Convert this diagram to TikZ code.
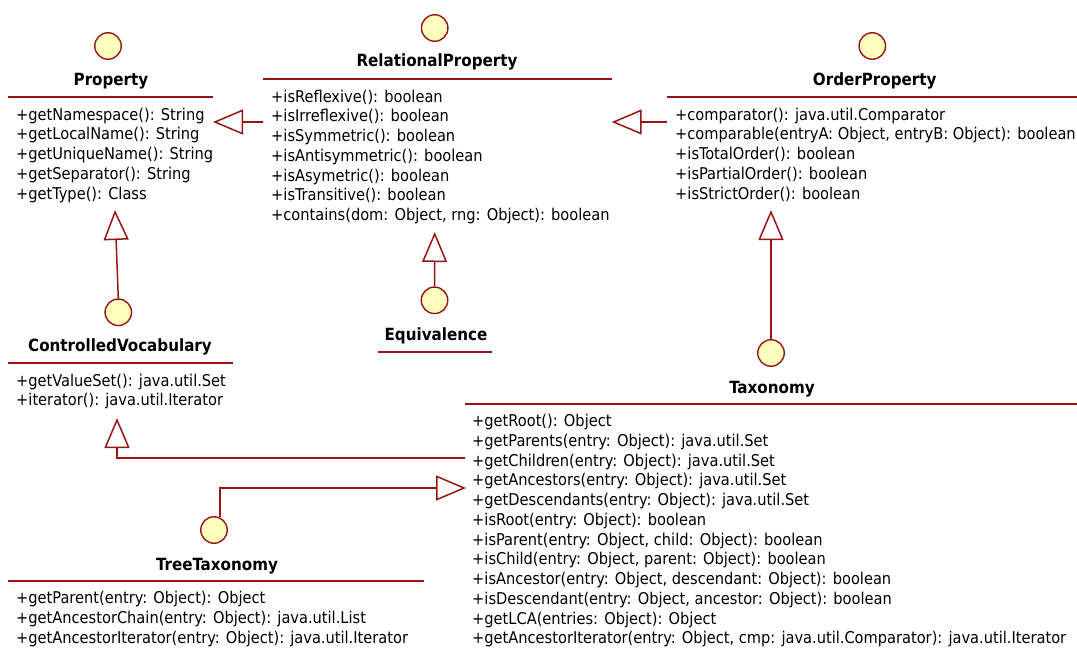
\documentclass[tikz,border=0pt]{standalone}
\usepackage{fontspec}
\newfontfamily\umlfont{DejaVu Sans Condensed}
\usetikzlibrary{arrows.meta}

\definecolor{umlline}{RGB}{150,20,20}
\definecolor{umlfill}{RGB}{255,255,192}

% size the fonts so that the longest operation and the longest class name
% get their intended widths
\newlength\memwd
\newlength\titwd
\AtBeginDocument{%
  \settowidth\memwd{\umlfont\fontsize{10pt}{12pt}\selectfont +getAncestorIterator(entry: Object, cmp: java.util.Comparator): java.util.Iterator}%
  \settowidth\titwd{\umlfont\bfseries\fontsize{10pt}{12pt}\selectfont RelationalProperty}%
  \pgfmathsetmacro\memsize{10*594/\memwd}%
  \pgfmathsetmacro\titsize{10*161/\titwd}%
}

% one node per operation, stacked from the first baseline downwards
\newcommand\umlmembers[4]{%
  \foreach \m [count=\i] in {#4} {%
    \node[member] (#1-\i) at ({#2},{#3+19.75*(\i-1)}) {\m};
  }%
}

\begin{document}
\begin{tikzpicture}[x=1pt, y=-1pt,
  member/.style={anchor=base west, inner sep=0pt,
    font=\umlfont\fontsize{\memsize pt}{20pt}\selectfont},
  title/.style={anchor=base, inner sep=0pt,
    font=\umlfont\bfseries\fontsize{\titsize pt}{20pt}\selectfont},
  circ/.style={circle, minimum size=26.5pt, inner sep=0pt,
    draw=umlline, fill=umlfill, line width=1.4pt},
  sep/.style={draw=umlline, line width=1.5pt},
  gen/.style={draw=umlline, line width=1.5pt,
    -{Triangle[open, length=30pt, width=25pt]}}]

\useasboundingbox (0,0) rectangle (1077,648);

% ---- Property
\node[circ] (propc) at (108,46) {};
\node[title] (propt) at (111,85) {Property};
\draw[sep] (8,97) -- (213,97);
\umlmembers{prop}{16}{120}{{+getNamespace(): String},{+getLocalName(): String},{+getUniqueName(): String},{+getSeparator(): String},{+getType(): Class}}

% ---- RelationalProperty
\node[circ] (relc) at (434.7,28) {};
\node[title] (relt) at (437,66.5) {RelationalProperty};
\draw[sep] (262.7,79) -- (611.7,79);
\umlmembers{rel}{271}{102}{{+isReflexive(): boolean},{+isIrreflexive(): boolean},{+isSymmetric(): boolean},{+isAntisymmetric(): boolean},{+isAsymetric(): boolean},{+isTransitive(): boolean},{+contains(dom: Object, rng: Object): boolean}}

% ---- OrderProperty
\node[circ] (ordc) at (872.3,46) {};
\node[title] (ordt) at (874.7,85) {OrderProperty};
\draw[sep] (666.7,97) -- (1077,97);
\umlmembers{ord}{675}{120}{{+comparator(): java.util.Comparator},{+comparable(entryA: Object, entryB: Object): boolean},{+isTotalOrder(): boolean},{+isPartialOrder(): boolean},{+isStrictOrder(): boolean}}

% ---- Equivalence
\node[circ] (eqc) at (434.5,300.3) {};
\node[title] (eqt) at (436,340) {Equivalence};
\draw[sep] (378,352) -- (492,352);

% ---- ControlledVocabulary
\node[circ] (cvc) at (118.3,312.3) {};
\node[title] (cvt) at (120,351.7) {ControlledVocabulary};
\draw[sep] (8,363) -- (233,363);
\umlmembers{cv}{16}{386}{{+getValueSet(): java.util.Set},{+iterator(): java.util.Iterator}}

% ---- Taxonomy
\node[circ] (taxc) at (771,353) {};
\node[title] (taxt) at (772,393) {Taxonomy};
\draw[sep] (465,404) -- (1077,404);
\umlmembers{tax}{472}{426.5}{{+getRoot(): Object},{+getParents(entry: Object): java.util.Set},{+getChildren(entry: Object): java.util.Set},{+getAncestors(entry: Object): java.util.Set},{+getDescendants(entry: Object): java.util.Set},{+isRoot(entry: Object): boolean},{+isParent(entry: Object, child: Object): boolean},{+isChild(entry: Object, parent: Object): boolean},{+isAncestor(entry: Object, descendant: Object): boolean},{+isDescendant(entry: Object, ancestor: Object): boolean},{+getLCA(entries: Object): Object},{+getAncestorIterator(entry: Object, cmp: java.util.Comparator): java.util.Iterator}}

% ---- TreeTaxonomy
\node[circ] (ttc) at (214,530) {};
\node[title] (ttt) at (217,570) {TreeTaxonomy};
\draw[sep] (8,581) -- (424,581);
\umlmembers{tt}{16}{603.5}{{+getParent(entry: Object): Object},{+getAncestorChain(entry: Object): java.util.List},{+getAncestorIterator(entry: Object): java.util.Iterator}}

% ---- generalisation end points
\coordinate (propE) at (213,122);
\coordinate (relW)  at (263,122);
\coordinate (relE)  at (611.7,122);
\coordinate (ordW)  at (666.5,122);
\coordinate (relS)  at (434.7,232);
\coordinate (propS) at (115,210);
\coordinate (ordS)  at (771,210);
\coordinate (cvS)   at (117,418);
\coordinate (taxW)  at (465,458);
\coordinate (taxL)  at (466,488);

% ---- generalisations
\draw[gen] (relW) -- (propE);
\draw[gen] (ordW) -- (relE);
\draw[gen] (eqc.north) -- (relS);
\draw[gen] (cvc.north) -- (propS);
\draw[gen] (taxc.north) -- (ordS);
\draw[gen] (taxW) -| (cvS);
\draw[gen] (ttc.65) |- (taxL);

\end{tikzpicture}
\end{document}
